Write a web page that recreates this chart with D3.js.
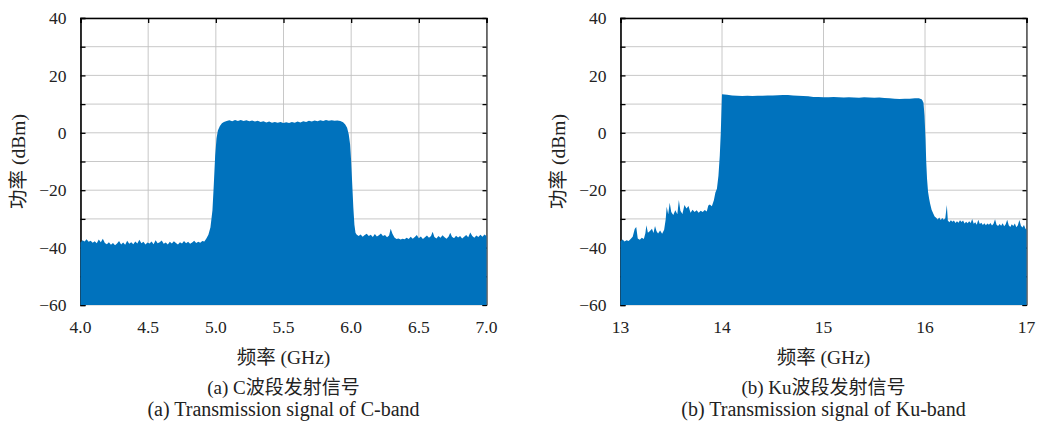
<!DOCTYPE html>
<html>
  <head>
    <meta charset="utf-8">
    <title>C / Ku band transmission spectra</title>
    <script src="https://cdn.jsdelivr.net/npm/d3@7"></script>
    <style>
      body { margin: 0; background: #fff; }
      text { font-family: "Liberation Serif", "Noto Sans CJK SC", serif; fill: #222; }
    </style>
  </head>
  <body>
    <script>

// chart size
var w = 1039;
var h = 423;

// y axis (same for both panels)
var yDomain = [-60, 40];
var yTickLabels = [-60, -40, -20, 0, 20, 40];
var yGridLines = [-60, -50, -40, -30, -20, -10, 0, 10, 20, 30, 40];

// panel (a) C-band
var cTicks = [4.0, 4.5, 5.0, 5.5, 6.0, 6.5, 7.0];
// envelope of the spectrum: [frequency GHz, power dBm]
var cTrace = [
  [4.000,-38.2],[4.015,-37.4],[4.030,-37.9],[4.045,-37.1],[4.060,-38.0],[4.075,-37.6],[4.090,-38.3],[4.105,-37.8],
  [4.120,-38.5],[4.135,-37.2],[4.150,-38.1],[4.165,-36.9],[4.180,-38.4],[4.195,-38.8],[4.210,-38.1],[4.225,-39.0],
  [4.240,-38.4],[4.255,-39.2],[4.270,-38.6],[4.285,-37.7],[4.300,-38.9],[4.315,-38.2],[4.330,-39.0],[4.345,-37.6],
  [4.360,-38.7],[4.375,-38.1],[4.390,-38.8],[4.405,-37.9],[4.420,-38.6],[4.435,-37.3],[4.450,-38.5],[4.465,-38.0],
  [4.480,-38.9],[4.495,-38.2],[4.510,-38.6],[4.525,-37.9],[4.540,-38.8],[4.555,-37.4],[4.570,-38.5],[4.585,-38.1],
  [4.600,-37.5],[4.615,-38.7],[4.630,-38.2],[4.645,-38.9],[4.660,-38.0],[4.675,-38.6],[4.690,-37.8],[4.705,-38.4],
  [4.720,-38.9],[4.735,-38.1],[4.750,-38.6],[4.765,-37.7],[4.780,-38.5],[4.795,-38.0],[4.810,-38.7],[4.825,-38.2],
  [4.840,-37.6],[4.855,-38.4],[4.870,-38.0],[4.885,-38.3],[4.900,-37.7],[4.915,-37.9],[4.930,-36.8],[4.945,-35.5],
  [4.960,-33.0],[4.975,-27.0],[4.985,-18.0],[4.995,-8.0],[5.005,-2.0],[5.015,0.8],[5.030,2.4],[5.045,3.3],
  [5.060,3.8],[5.080,4.1],[5.100,4.4],[5.121,4.0],[5.142,4.5],[5.163,4.1],[5.184,4.5],[5.205,4.1],
  [5.226,4.4],[5.247,4.0],[5.268,4.3],[5.289,3.9],[5.310,4.2],[5.331,3.8],[5.352,4.0],[5.373,3.6],
  [5.394,3.9],[5.415,3.5],[5.436,3.8],[5.457,3.5],[5.478,3.8],[5.499,3.4],[5.520,3.7],[5.541,3.4],
  [5.562,3.8],[5.583,3.5],[5.604,3.9],[5.625,3.6],[5.646,4.0],[5.667,3.8],[5.688,4.2],[5.709,3.9],
  [5.730,4.3],[5.751,4.0],[5.772,4.4],[5.793,4.1],[5.814,4.5],[5.835,4.2],[5.856,4.4],[5.877,4.2],
  [5.898,4.3],[5.920,4.1],[5.940,3.7],[5.955,3.0],[5.970,1.8],[5.982,-0.5],[5.992,-4.0],[6.000,-10.0],
  [6.008,-18.0],[6.016,-26.0],[6.024,-32.0],[6.032,-34.8],[6.040,-35.4],[6.055,-36.0],[6.070,-35.4],[6.085,-36.2],
  [6.100,-35.6],[6.115,-35.2],[6.130,-36.0],[6.145,-35.5],[6.160,-36.3],[6.175,-35.3],[6.190,-36.1],[6.205,-35.7],
  [6.220,-35.1],[6.235,-36.0],[6.250,-35.6],[6.265,-36.4],[6.280,-35.8],[6.292,-33.4],[6.305,-35.2],[6.320,-36.5],
  [6.335,-37.0],[6.350,-36.8],[6.365,-37.2],[6.380,-36.9],[6.395,-37.1],[6.410,-36.6],[6.425,-37.0],[6.440,-36.2],
  [6.455,-36.9],[6.470,-36.3],[6.485,-35.6],[6.500,-36.7],[6.515,-36.1],[6.530,-37.0],[6.545,-36.4],[6.560,-35.8],
  [6.575,-36.6],[6.590,-36.0],[6.602,-34.5],[6.615,-36.3],[6.630,-36.8],[6.645,-36.0],[6.660,-36.6],[6.675,-35.7],
  [6.690,-36.4],[6.705,-36.9],[6.720,-36.1],[6.732,-34.8],[6.745,-36.2],[6.760,-36.7],[6.775,-35.9],[6.790,-36.5],
  [6.805,-36.0],[6.820,-36.8],[6.835,-36.2],[6.850,-35.6],[6.865,-36.4],[6.880,-34.7],[6.895,-36.0],[6.910,-36.6],
  [6.925,-35.8],[6.940,-36.3],[6.955,-35.5],[6.970,-36.2],[6.985,-35.4],[7.000,-36.0]
];

// panel (b) Ku-band
var kuTicks = [13, 14, 15, 16, 17];
var kuTrace = [
  [13.000,-37.8],[13.020,-37.2],[13.040,-37.9],[13.060,-37.4],[13.080,-37.7],[13.100,-37.0],[13.120,-36.2],[13.140,-33.5],
  [13.155,-32.8],[13.170,-36.8],[13.190,-37.3],[13.210,-36.6],[13.230,-37.0],[13.245,-35.0],[13.255,-32.2],[13.270,-34.8],
  [13.290,-34.2],[13.310,-33.4],[13.325,-34.9],[13.340,-32.5],[13.355,-34.3],[13.370,-35.1],[13.390,-34.0],[13.410,-35.2],
  [13.430,-33.8],[13.445,-30.2],[13.455,-25.8],[13.470,-28.4],[13.485,-24.4],[13.500,-27.6],[13.520,-28.6],[13.540,-27.0],
  [13.560,-28.4],[13.575,-23.4],[13.590,-27.2],[13.610,-28.3],[13.630,-25.2],[13.650,-26.4],[13.670,-25.5],[13.690,-27.9],
  [13.710,-26.8],[13.730,-27.6],[13.750,-27.0],[13.770,-27.9],[13.790,-27.2],[13.810,-27.6],[13.830,-26.9],[13.850,-27.4],
  [13.865,-25.3],[13.880,-25.0],[13.900,-25.6],[13.920,-23.5],[13.935,-20.8],[13.950,-19.5],[13.965,-15.0],[13.978,-8.0],
  [13.988,0.0],[13.995,8.0],[14.000,13.4],[14.050,13.3],[14.100,13.0],[14.150,12.9],[14.200,12.8],[14.250,12.9],
  [14.300,12.8],[14.350,12.9],[14.400,12.9],[14.450,13.0],[14.500,13.0],[14.550,13.1],[14.600,13.2],[14.650,13.2],
  [14.700,13.0],[14.750,12.9],[14.800,12.8],[14.850,12.7],[14.900,12.5],[14.950,12.5],[15.000,12.4],[15.050,12.4],
  [15.100,12.5],[15.150,12.4],[15.200,12.3],[15.250,12.4],[15.300,12.3],[15.350,12.2],[15.400,12.4],[15.450,12.3],
  [15.500,12.2],[15.550,12.3],[15.600,12.1],[15.650,12.0],[15.700,11.9],[15.750,11.8],[15.800,11.9],[15.850,11.9],
  [15.900,12.0],[15.940,12.0],[15.970,11.6],[15.985,10.5],[15.995,6.0],[16.005,-2.0],[16.012,-10.0],[16.020,-16.0],
  [16.030,-20.5],[16.040,-22.8],[16.050,-24.6],[16.065,-26.8],[16.080,-28.0],[16.095,-29.2],[16.110,-29.6],[16.125,-30.2],
  [16.140,-29.5],[16.155,-30.4],[16.170,-29.7],[16.185,-30.3],[16.200,-29.8],[16.215,-25.2],[16.225,-30.6],[16.240,-31.2],
  [16.255,-30.5],[16.270,-31.0],[16.285,-30.6],[16.300,-31.4],[16.315,-30.8],[16.330,-31.3],[16.345,-30.5],[16.360,-31.1],
  [16.375,-30.6],[16.390,-31.6],[16.405,-31.0],[16.420,-31.5],[16.435,-30.8],[16.450,-31.4],[16.465,-30.0],[16.480,-31.7],
  [16.495,-31.2],[16.510,-32.0],[16.525,-30.3],[16.540,-31.8],[16.555,-31.3],[16.570,-32.1],[16.585,-31.5],[16.600,-32.2],
  [16.615,-31.6],[16.630,-32.0],[16.645,-31.4],[16.660,-32.3],[16.675,-31.7],[16.690,-30.1],[16.705,-32.0],[16.720,-32.5],
  [16.735,-31.8],[16.750,-32.4],[16.765,-31.5],[16.780,-32.6],[16.795,-31.9],[16.810,-30.3],[16.825,-32.2],[16.840,-32.8],
  [16.855,-31.9],[16.870,-32.5],[16.885,-31.6],[16.900,-32.9],[16.915,-32.2],[16.930,-30.4],[16.945,-32.4],[16.960,-33.0],
  [16.975,-32.1],[16.990,-33.4],[17.000,-33.8]
];

var svg = d3.select("body")
  .append("svg")
  .attr("width", w)
  .attr("height", h);

// one panel of the figure
function drawPanel(left, trace, ticks, fmt, caption1, caption2) {
  var x0 = left, x1 = left + 406;
  var top = 18, bottom = 305;

  var xScale = d3.scaleLinear()
    .domain([ticks[0], ticks[ticks.length - 1]])
    .range([x0, x1]);
  var yScale = d3.scaleLinear()
    .domain(yDomain)
    .range([bottom, top]);

  var g = svg.append("g");

  // grid
  g.selectAll("line.vgrid")
    .data(ticks)
    .enter()
    .append("line")
    .attr("x1", function(d){ return xScale(d); })
    .attr("x2", function(d){ return xScale(d); })
    .attr("y1", top)
    .attr("y2", bottom)
    .attr("stroke", "#c2c2c2")
    .attr("stroke-width", 0.9);
  g.selectAll("line.hgrid")
    .data(yGridLines)
    .enter()
    .append("line")
    .attr("x1", x0)
    .attr("x2", x1)
    .attr("y1", function(d){ return yScale(d); })
    .attr("y2", function(d){ return yScale(d); })
    .attr("stroke", "#c2c2c2")
    .attr("stroke-width", 0.9);

  // frame with inward ticks
  var yAxisL = d3.axisLeft(yScale).tickValues(yGridLines).tickSize(-5).tickFormat("");
  var yAxisR = d3.axisRight(yScale).tickValues(yGridLines).tickSize(-4).tickFormat("");
  var xAxisT = d3.axisTop(xScale).tickValues(ticks).tickSize(-5).tickFormat("");
  g.append("g").attr("transform", "translate(" + x0 + ",0)").call(yAxisL)
    .call(function(a){ a.select(".domain").attr("stroke-width", 1.6); });
  g.append("g").attr("transform", "translate(" + x1 + ",0)").call(yAxisR);
  g.append("g").attr("transform", "translate(0," + top + ")").call(xAxisT)
    .call(function(a){ a.select(".domain").attr("stroke-width", 1.6); });
  g.selectAll(".domain").attr("stroke", "#000");
  g.selectAll(".tick line").attr("stroke", "#000").attr("stroke-width", 1.3);

  // spectrum (filled from the floor)
  var area = d3.area()
    .x(function(d){ return xScale(d[0]); })
    .y0(yScale(yDomain[0]))
    .y1(function(d){ return yScale(d[1]); });
  g.append("path")
    .datum(trace)
    .attr("d", area)
    .attr("fill", "#0072bd");

  // tick labels
  g.selectAll("text.ylab")
    .data(yTickLabels)
    .enter()
    .append("text")
    .attr("x", x0 - 14)
    .attr("y", function(d){ return yScale(d); })
    .attr("dy", "0.35em")
    .attr("text-anchor", "end")
    .style("font-size", "17.5px")
    .text(function(d){ return d < 0 ? "\u2212" + Math.abs(d) : d; });
  g.selectAll("text.xlab")
    .data(ticks)
    .enter()
    .append("text")
    .attr("x", function(d){ return xScale(d); })
    .attr("y", 333)
    .attr("text-anchor", "middle")
    .style("font-size", "17.5px")
    .text(fmt);

  // axis titles
  var cx = (x0 + x1) / 2;
  g.append("text")
    .attr("transform", "translate(" + (left - 62) + "," + ((top + bottom) / 2) + ") rotate(-90)")
    .attr("dy", "0.35em")
    .attr("text-anchor", "middle")
    .style("font-size", "19.5px")
    .text("功率 (dBm)");
  g.append("text")
    .attr("x", cx)
    .attr("y", 364)
    .attr("text-anchor", "middle")
    .style("font-size", "19.5px")
    .text("频率 (GHz)");

  // captions
  g.append("text")
    .attr("x", cx)
    .attr("y", 394)
    .attr("text-anchor", "middle")
    .style("font-size", "19px")
    .text(caption1);
  g.append("text")
    .attr("x", cx)
    .attr("y", 416)
    .attr("text-anchor", "middle")
    .style("font-size", "20px")
    .text(caption2);
}

drawPanel(80.5, cTrace, cTicks, d3.format(".1f"), "(a) C波段发射信号", "(a) Transmission signal of C-band");
drawPanel(620.5, kuTrace, kuTicks, d3.format("d"), "(b) Ku波段发射信号", "(b) Transmission signal of Ku-band");

    </script>
  </body>
</html>
